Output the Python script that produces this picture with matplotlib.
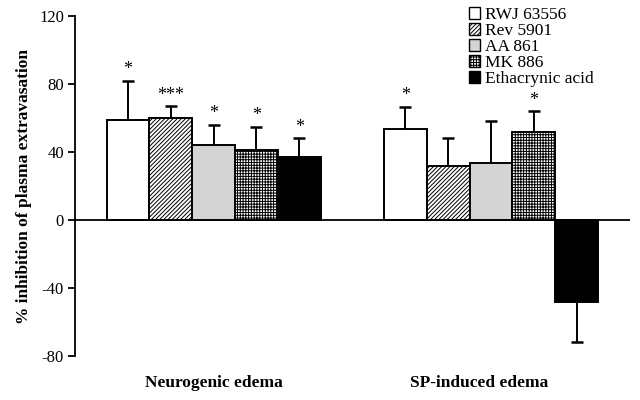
import matplotlib
matplotlib.use("Agg")
import matplotlib.pyplot as plt
import numpy as np
from matplotlib.patches import Patch

plt.rcParams['font.family'] = ['Liberation Serif', 'DejaVu Serif']
plt.rcParams['hatch.linewidth'] = 0.7

groups = ["Neurogenic edema", "SP-induced edema"]
treatments = ["RWJ 63556", "Rev 5901", "AA 861", "MK 886", "Ethacrynic acid"]
neuro_vals = [59, 60, 44, 41, 37]
neuro_err = [23, 7, 12, 14, 11]
sp_vals = [53.5, 32, 33.5, 52, -48.5]
sp_err = [13, 16, 25, 12, 23]
neuro_sig = ["*", "***", "*", "*", "*"]
sp_sig = ["*", "", "", "*", ""]
yticks = [120, 80, 40, 0, -40, -80]

faces = ["white", "white", "#d4d4d4", "white", "black"]
hatches = [None, "////////", None, "++++++", None]

fig = plt.figure(figsize=(6.4, 4.0), dpi=100)
ax = fig.add_axes([75/640, 44/400, (630-75)/640, (356-16)/400])

g_starts = [0, 6.48]
all_vals = [neuro_vals, sp_vals]
all_err = [neuro_err, sp_err]
all_sig = [neuro_sig, sp_sig]
for gs, vals, errs, sigs in zip(g_starts, all_vals, all_err, all_sig):
    for i, (v, e, s) in enumerate(zip(vals, errs, sigs)):
        x = gs + i
        ax.bar(x, v, width=1.0, color=faces[i], edgecolor="black", linewidth=1.4,
               hatch=hatches[i], zorder=2)
        end = v + e if v >= 0 else v - e
        ax.vlines(x, v, end, color="black", linewidth=1.4, zorder=3)
        ax.plot([x], [end], marker="_", markersize=9, markeredgewidth=1.8,
                color="black", zorder=3)
        if s:
            ax.text(x, end + 1.5, s, ha="center", va="bottom", fontsize=13, zorder=4)

ax.axhline(0, color="black", linewidth=1.3, zorder=1)
ax.set_xlim(-1.24, 11.73)
ax.set_ylim(-80, 120)
ax.set_yticks(yticks)
ax.set_yticklabels([str(t) for t in yticks], fontsize=12)
ax.tick_params(axis="y", direction="out", length=5, width=1.3, pad=3)
ax.set_xticks([2, 8.2])
ax.set_xticklabels(groups, fontsize=12.5, fontweight="bold")
ax.tick_params(axis="x", length=0, pad=14)
for sp in ["top", "right", "bottom"]:
    ax.spines[sp].set_visible(False)
ax.spines["left"].set_linewidth(1.3)
ax.set_ylabel("% inhibition of plasma extravasation", fontsize=12.5, fontweight="bold", labelpad=5)

handles = [Patch(facecolor=faces[i], edgecolor="black", hatch=hatches[i], linewidth=1.0)
           for i in range(len(treatments))]
ax.legend(handles, treatments, loc="upper left", bbox_to_anchor=(469/640, 1 - 7/400),
          bbox_transform=fig.transFigure, frameon=False, fontsize=12.5,
          handlelength=0.65, handleheight=0.65, handletextpad=0.3, labelspacing=0.0,
          borderpad=0, borderaxespad=0)

fig.savefig("out.png", dpi=100)
